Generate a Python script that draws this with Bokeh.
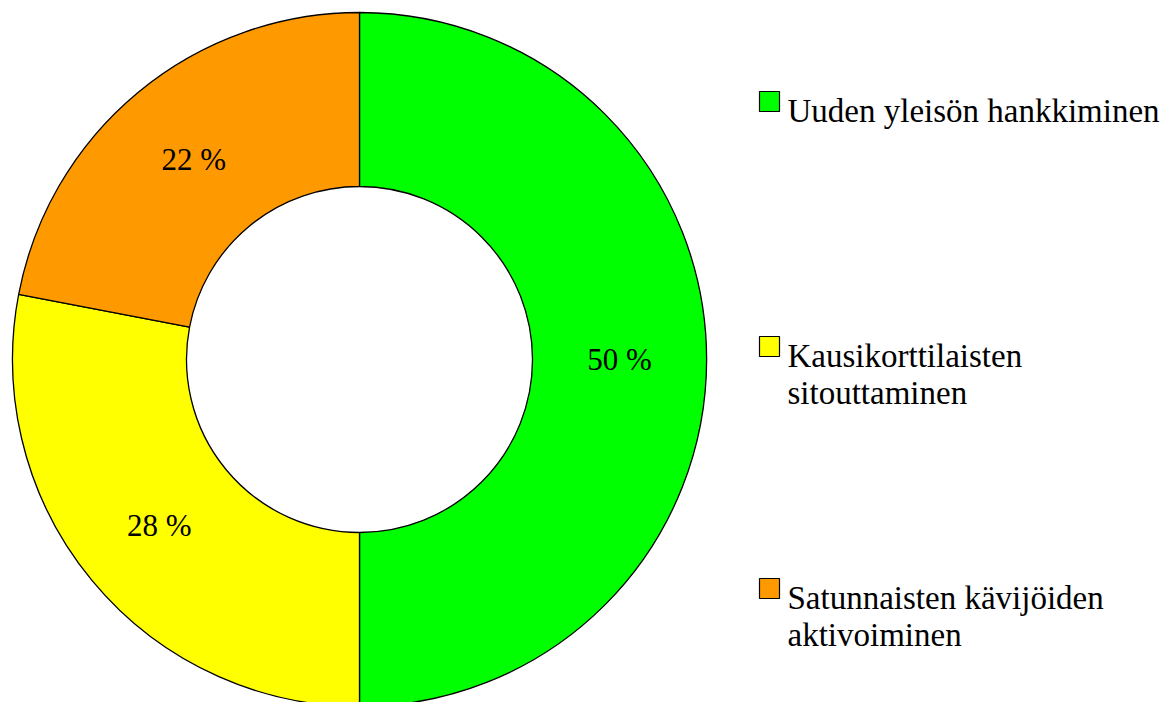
import numpy as np
from bokeh.plotting import figure
from bokeh.models import Range1d, ColumnDataSource
from bokeh.embed import file_html
from bokeh.resources import INLINE
from bokeh.core.properties import value

# ---- data ----
categories = ["Uuden yleisön hankkiminen",
              "Kausikorttilaisten\nsitouttaminen",
              "Satunnaisten kävijöiden\naktivoiminen"]
shares = [50, 28, 22]
colors = ["#00FF00", "#FFFF00", "#FF9900"]
pct_labels = [f"{v} %" for v in shares]

# ---- layout ----
W, H = 1164, 702
CX, CY = 359, -359
R_OUT, R_IN = 347, 173
FONT = "'Liberation Serif', 'Times New Roman', serif"
legend_baselines = [110, 355, 597]
legend_line_gap = 37
legend_box_x = 769
legend_text_x = 787

p = figure(width=W, height=H, x_range=Range1d(0, W), y_range=Range1d(-H, 0),
           output_backend="svg", toolbar_location=None, min_border=0)
p.axis.visible = False
p.grid.visible = False
p.outline_line_color = None
p.background_fill_color = "white"

frac = np.array(shares, dtype=float) / sum(shares)
cum_end = np.cumsum(frac)
cum_start = cum_end - frac
start = np.pi / 2 - 2 * np.pi * cum_end
end = np.pi / 2 - 2 * np.pi * cum_start
mid = (start + end) / 2

src = ColumnDataSource(dict(start=start, end=end, color=colors,
                            lx=CX + (R_OUT + R_IN) / 2 * np.cos(mid),
                            ly=CY + (R_OUT + R_IN) / 2 * np.sin(mid),
                            lab=pct_labels))
p.annular_wedge(x=CX, y=CY, inner_radius=R_IN, outer_radius=R_OUT,
                start_angle="start", end_angle="end", fill_color="color",
                line_color="black", line_width=1.3, source=src)
p.text(x="lx", y="ly", text="lab", source=src, text_font=value(FONT),
       text_font_size="31px", text_align="center", text_baseline="middle",
       text_color="black")

# legend
bx, by, bc, tx, ty, tt = [], [], [], [], [], []
for i, name in enumerate(categories):
    b = legend_baselines[i]
    bx.append(legend_box_x); by.append(-(b - 9)); bc.append(colors[i])
    for j, line in enumerate(name.split("\n")):
        tx.append(legend_text_x); ty.append(-(b + j * legend_line_gap)); tt.append(line)
p.rect(x=bx, y=by, width=20, height=20, fill_color=bc, line_color="black", line_width=1.2)
p.text(x=tx, y=ty, text=tt, text_font=value(FONT), text_font_size="33px",
       text_align="left", text_baseline="alphabetic", text_color="black")

open("out.html", "w").write(file_html(p, INLINE))
